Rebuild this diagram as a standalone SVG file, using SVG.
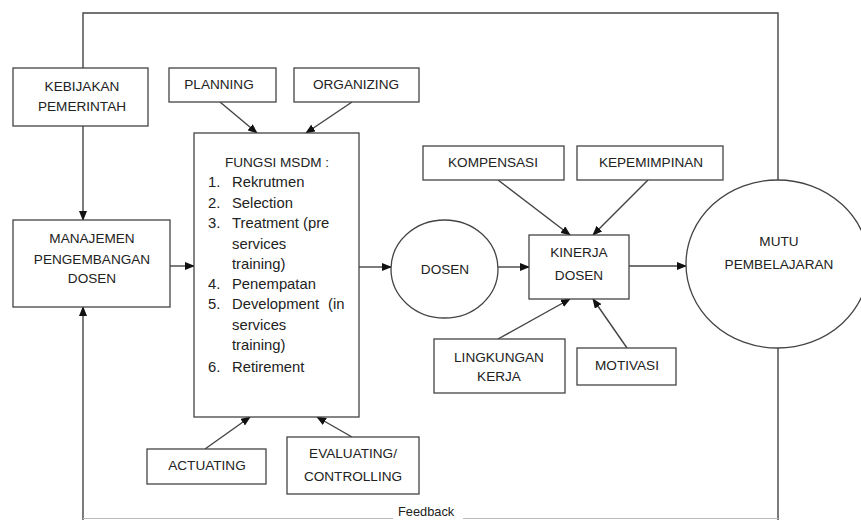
<svg xmlns="http://www.w3.org/2000/svg" width="861" height="520" viewBox="0 0 861 520">
<style>
.box{fill:#fff;stroke:#444;stroke-width:1.3}
.ln{fill:none;stroke:#444;stroke-width:1.4}
text{font-family:"Liberation Sans",Arial,sans-serif;font-size:13.6px;fill:#222}
.c{text-anchor:middle}
.li{font-size:14.8px}
</style>
<defs>
<marker id="ah" markerWidth="10" markerHeight="8" refX="9" refY="4" orient="auto" markerUnits="userSpaceOnUse">
<path d="M0,0 L10,4 L0,8 Z" fill="#111"/>
</marker>
</defs>
<rect width="861" height="520" fill="#fff"/>
<g id="connectors">
<polyline class="ln" points="83,68 83,13 778,13 778,180"/>
<line class="ln" x1="83" y1="126" x2="83" y2="220" marker-end="url(#ah)"/>
<line class="ln" x1="170" y1="266" x2="194" y2="266" marker-end="url(#ah)"/>
<line class="ln" x1="359" y1="267" x2="391" y2="267" marker-end="url(#ah)"/>
<line class="ln" x1="498" y1="267" x2="529" y2="267" marker-end="url(#ah)"/>
<line class="ln" x1="629" y1="266" x2="686" y2="266" marker-end="url(#ah)"/>
<line class="ln" x1="220" y1="102" x2="257" y2="133" marker-end="url(#ah)"/>
<line class="ln" x1="352" y1="102" x2="306" y2="133" marker-end="url(#ah)"/>
<line class="ln" x1="205" y1="449" x2="250" y2="417" marker-end="url(#ah)"/>
<line class="ln" x1="352" y1="437" x2="317" y2="417" marker-end="url(#ah)"/>
<line class="ln" x1="498" y1="180" x2="570" y2="235" marker-end="url(#ah)"/>
<line class="ln" x1="648" y1="180" x2="593" y2="235" marker-end="url(#ah)"/>
<line class="ln" x1="498" y1="339" x2="570" y2="299" marker-end="url(#ah)"/>
<line class="ln" x1="627" y1="348" x2="593" y2="299" marker-end="url(#ah)"/>
<line class="ln" x1="778" y1="348" x2="778" y2="520"/>
<line class="ln" x1="83" y1="520" x2="83" y2="307" marker-end="url(#ah)"/>
<line x1="83" y1="518.5" x2="393" y2="518.5" stroke="#bbb" stroke-width="1.2"/>
<line x1="463" y1="518.5" x2="778" y2="518.5" stroke="#bbb" stroke-width="1.2"/>
<text x="398" y="515.5" style="font-size:12.8px">Feedback</text>
</g>
<g id="kebijakan">
<rect class="box" x="13" y="68" width="135" height="58"/>
<text class="c" x="82" y="90.5">KEBIJAKAN</text>
<text class="c" x="82" y="110.5">PEMERINTAH</text>
</g>
<g id="manajemen">
<rect class="box" x="13" y="220" width="157" height="87"/>
<text class="c" x="92" y="243">MANAJEMEN</text>
<text class="c" x="92" y="263.5">PENGEMBANGAN</text>
<text class="c" x="92" y="283">DOSEN</text>
</g>
<g id="planning">
<rect class="box" x="169" y="68" width="107" height="34"/>
<text class="c" x="219" y="89">PLANNING</text>
</g>
<g id="organizing">
<rect class="box" x="294" y="68" width="125" height="34"/>
<text class="c" x="356" y="89">ORGANIZING</text>
</g>
<g id="fungsi">
<rect class="box" x="194" y="133" width="165" height="284"/>
<text class="c" x="277" y="167">FUNGSI MSDM :</text>
<text class="li" x="208" y="187">1.</text><text class="li" x="232" y="187">Rekrutmen</text>
<text class="li" x="208" y="207.5">2.</text><text class="li" x="232" y="207.5">Selection</text>
<text class="li" x="208" y="228">3.</text><text class="li" x="232" y="228">Treatment (pre</text>
<text class="li" x="232" y="248.5">services</text>
<text class="li" x="232" y="269">training)</text>
<text class="li" x="208" y="288.5">4.</text><text class="li" x="232" y="288.5">Penempatan</text>
<text class="li" x="208" y="309">5.</text><text class="li" x="232" y="309">Development</text><text class="li" x="328" y="309">(in</text>
<text class="li" x="232" y="329.5">services</text>
<text class="li" x="232" y="350">training)</text>
<text class="li" x="208" y="372">6.</text><text class="li" x="232" y="372">Retirement</text>
</g>
<g id="actuating">
<rect class="box" x="147" y="449" width="119" height="35"/>
<text class="c" x="207" y="470">ACTUATING</text>
</g>
<g id="evaluating">
<rect class="box" x="287" y="437" width="132" height="57"/>
<text class="c" x="353" y="458">EVALUATING/</text>
<text class="c" x="353" y="481">CONTROLLING</text>
</g>
<g id="dosen">
<ellipse class="box" cx="444.5" cy="269" rx="53.5" ry="49"/>
<text class="c" x="445" y="274">DOSEN</text>
</g>
<g id="kompensasi">
<rect class="box" x="423" y="146" width="141" height="34"/>
<text class="c" x="493" y="167">KOMPENSASI</text>
</g>
<g id="kepemimpinan">
<rect class="box" x="577" y="146" width="146" height="34"/>
<text class="c" x="651" y="167">KEPEMIMPINAN</text>
</g>
<g id="kinerja">
<rect class="box" x="529" y="235" width="100" height="64"/>
<text class="c" x="579" y="257">KINERJA</text>
<text class="c" x="579" y="280">DOSEN</text>
</g>
<g id="lingkungan">
<rect class="box" x="434" y="339" width="131" height="54"/>
<text class="c" x="499" y="362">LINGKUNGAN</text>
<text class="c" x="499" y="381">KERJA</text>
</g>
<g id="motivasi">
<rect class="box" x="577" y="348" width="99" height="37"/>
<text class="c" x="627" y="370">MOTIVASI</text>
</g>
<g id="mutu">
<ellipse class="box" cx="777.5" cy="264" rx="91.5" ry="84"/>
<text class="c" x="779" y="246">MUTU</text>
<text class="c" x="779" y="269">PEMBELAJARAN</text>
</g>
</svg>
